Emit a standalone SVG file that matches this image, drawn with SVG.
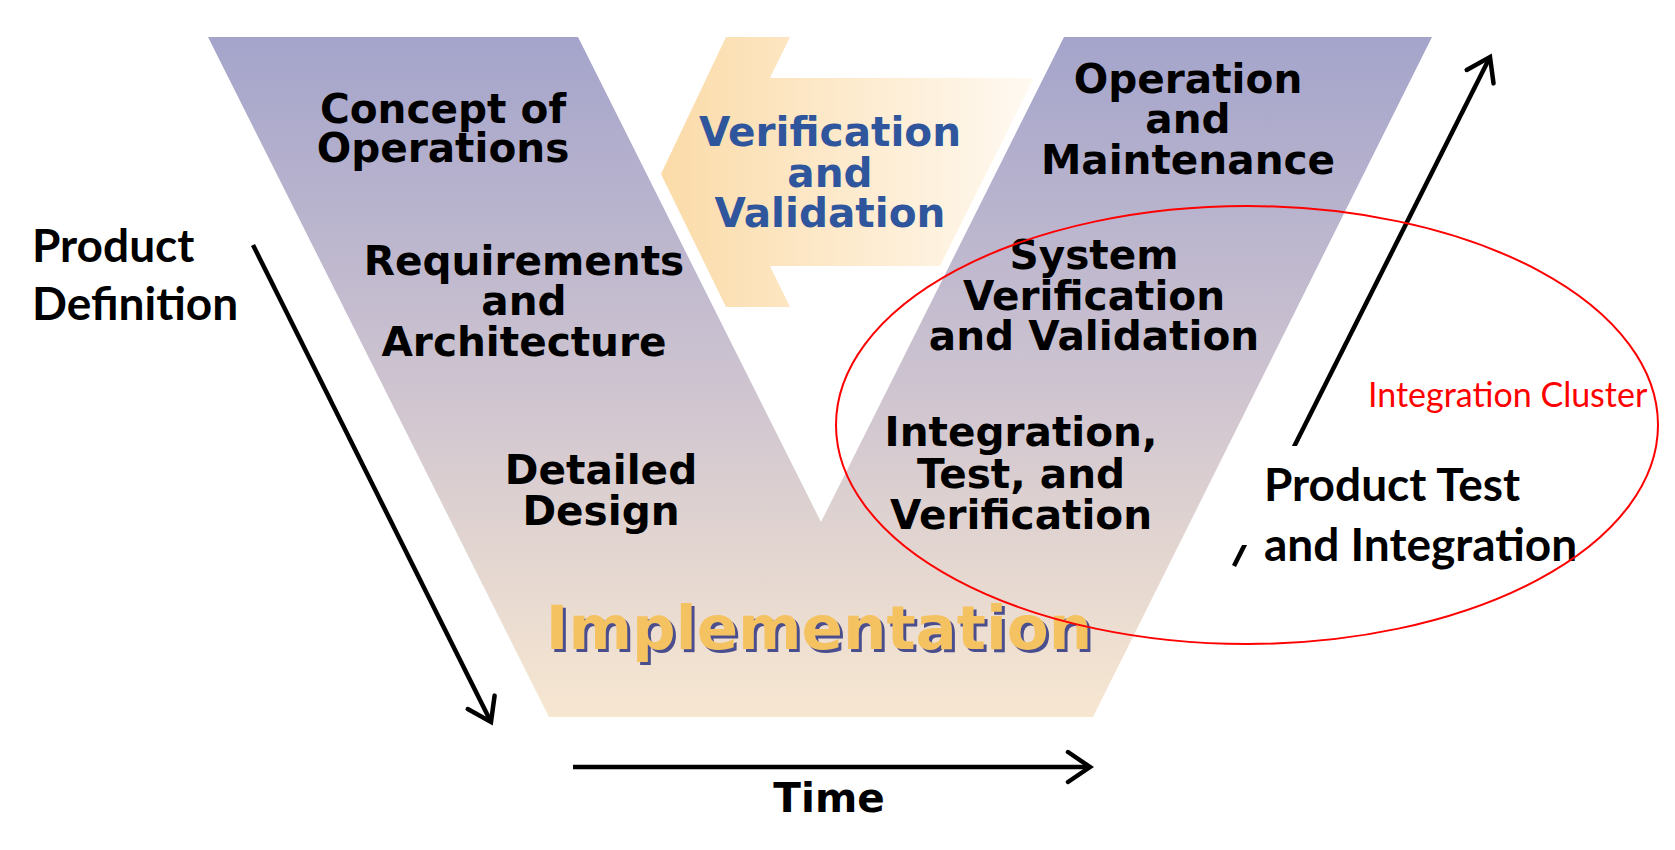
<svg xmlns="http://www.w3.org/2000/svg" width="1675" height="850" viewBox="0 0 1675 850">
  <defs>
    <linearGradient id="vGrad" gradientUnits="userSpaceOnUse" x1="0" y1="37" x2="0" y2="717">
      <stop offset="0" stop-color="#a4a4cb"/>
      <stop offset="0.5" stop-color="#cdc3d0"/>
      <stop offset="1" stop-color="#f7e7d1"/>
    </linearGradient>
    <linearGradient id="aGrad" gradientUnits="userSpaceOnUse" x1="661" y1="0" x2="1040" y2="0">
      <stop offset="0" stop-color="#fbdba8"/>
      <stop offset="1" stop-color="#fffaf3"/>
    </linearGradient>
    <marker id="ah" markerUnits="userSpaceOnUse" viewBox="-30 -20 40 40" refX="0" refY="0" markerWidth="40" markerHeight="40" orient="auto" overflow="visible">
      <path d="M-22,-15 L0,0 L-22,15" fill="none" stroke="#000" stroke-width="4.5" stroke-linecap="round" stroke-linejoin="miter"/>
    </marker>
    <style>
      .v { font-family: "DejaVu Sans", "Liberation Sans", sans-serif; font-weight: bold; font-size: 40.6px; text-anchor: middle; fill: #000; }
      .vv { fill: #2f569c; }
      .impl { font-family: "DejaVu Sans", "Liberation Sans", sans-serif; font-weight: bold; font-size: 61px; text-anchor: middle; }
      .side { font-family: Lato, "Open Sans", "Liberation Sans", sans-serif; font-weight: bold; font-size: 46px; fill: #000; }
      .clus { font-family: Lato, "Open Sans", "Liberation Sans", sans-serif; font-size: 34px; fill: #ff0000; }
      .conn { fill: none; stroke: #000; stroke-width: 4.5; marker-end: url(#ah); }
    </style>
  </defs>
  <rect width="1675" height="850" fill="#fff"/>

  <g id="v-shape">
    <polygon points="208,37 578,37 821,522 1064,37 1432,37 1093,717 549,717" fill="url(#vGrad)"/>
  </g>

  <g id="vv-arrow">
    <polygon points="661,174 726,37 790,37 770,78 1034,78 940,266 770,266 790,307 726,307" fill="url(#aGrad)"/>
    <text class="v vv" x="830" y="146">Verification</text>
    <text class="v vv" x="830" y="187">and</text>
    <text class="v vv" x="830" y="227">Validation</text>
  </g>

  <g id="concept">
    <text class="v" x="443" y="123">Concept of</text>
    <text class="v" x="443" y="162">Operations</text>
  </g>
  <g id="requirements">
    <text class="v" x="524" y="275">Requirements</text>
    <text class="v" x="524" y="315">and</text>
    <text class="v" x="524" y="356">Architecture</text>
  </g>
  <g id="detailed">
    <text class="v" x="601" y="484">Detailed</text>
    <text class="v" x="601" y="525">Design</text>
  </g>
  <g id="implementation">
    <text class="impl" x="822" y="652" fill="#4a4e8e">Implementation</text>
    <text class="impl" x="819" y="649" fill="#f5c262">Implementation</text>
  </g>
  <g id="integration">
    <text class="v" x="1021" y="446">Integration,</text>
    <text class="v" x="1021" y="488">Test, and</text>
    <text class="v" x="1021" y="529">Verification</text>
  </g>
  <g id="system">
    <text class="v" x="1094" y="269">System</text>
    <text class="v" x="1094" y="310">Verification</text>
    <text class="v" x="1094" y="350">and Validation</text>
  </g>
  <g id="operation">
    <text class="v" x="1188" y="93">Operation</text>
    <text class="v" x="1188" y="133">and</text>
    <text class="v" x="1188" y="174">Maintenance</text>
  </g>

  <g id="product-definition">
    <text class="side" x="32" y="262">Product</text>
    <text class="side" x="32" y="320">Definition</text>
  </g>

  <g id="connectors">
    <line class="conn" x1="253" y1="245" x2="491" y2="722"/>
    <line class="conn" x1="573" y1="767" x2="1090" y2="767"/>
    <line class="conn" x1="1234" y1="566" x2="1490" y2="57"/>
  </g>

  <g id="time">
    <text class="v" x="829" y="812">Time</text>
  </g>

  <g id="product-test">
    <rect x="1240" y="446" width="330" height="99" fill="#fff"/>
    <text class="side" x="1264" y="501">Product Test</text>
    <text class="side" x="1264" y="561">and Integration</text>
  </g>

  <g id="integration-cluster">
    <ellipse cx="1247" cy="425" rx="411" ry="219" fill="none" stroke="#ff0000" stroke-width="2"/>
    <text class="clus" x="1368" y="407">Integration Cluster</text>
  </g>
</svg>
